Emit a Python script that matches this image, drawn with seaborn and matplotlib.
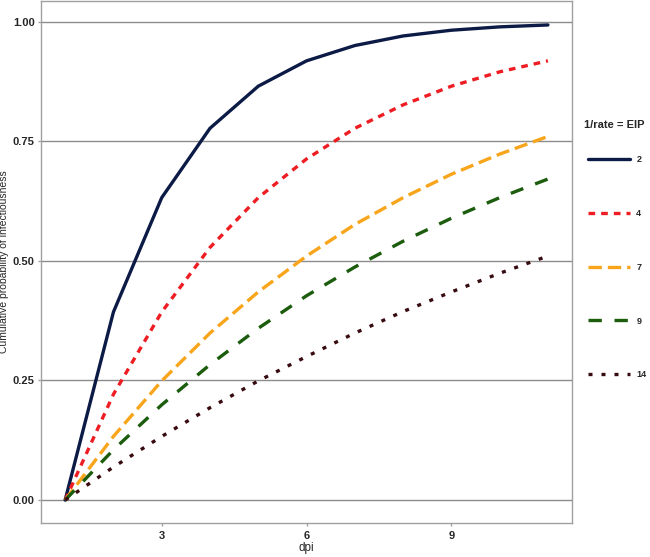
import numpy as np
import pandas as pd
import matplotlib
matplotlib.use("Agg")
import matplotlib.pyplot as plt
import seaborn as sns

# -- Data ----------------------------------------------------------------------
DPI = [1, 2, 3, 4, 5, 6, 7, 8, 9, 10, 11]
EIP_2 = [0.0, 0.393, 0.632, 0.777, 0.865, 0.918, 0.950, 0.970, 0.982, 0.989, 0.993]
EIP_4 = [0.0, 0.221, 0.393, 0.528, 0.632, 0.713, 0.777, 0.826, 0.865, 0.895, 0.918]
EIP_7 = [0.0, 0.133, 0.249, 0.349, 0.435, 0.510, 0.576, 0.632, 0.681, 0.723, 0.760]
EIP_9 = [0.0, 0.105, 0.199, 0.283, 0.359, 0.427, 0.487, 0.541, 0.589, 0.632, 0.671]
EIP_14 = [0.0, 0.069, 0.133, 0.193, 0.249, 0.300, 0.349, 0.394, 0.435, 0.474, 0.510]

EIP_LABELS = ["2", "4", "7", "9", "14"]
EIP_SERIES = [EIP_2, EIP_4, EIP_7, EIP_9, EIP_14]

COLORS = {
    "2": "#0c1a46",
    "4": "#ee1d23",
    "7": "#f8a51b",
    "9": "#1b5c0d",
    "14": "#380b10",
}
DASHES = {
    "2": "",
    "4": (2.0, 1.8),
    "7": (4.0, 1.8),
    "9": (4.0, 3.8),
    "14": (1.2, 2.7),
}
LW = 2.4

frames = []
for lab, vals in zip(EIP_LABELS, EIP_SERIES):
    frames.append(pd.DataFrame({"dpi": DPI, "prob": vals, "EIP": lab}))
df = pd.concat(frames, ignore_index=True)

# -- Plot ----------------------------------------------------------------------
sns.set_style("white")
plt.rcParams["font.family"] = ["Liberation Sans", "DejaVu Sans"]

fig = plt.figure(figsize=(6.5, 5.57), dpi=100)
ax = fig.add_axes([0.0631, 0.061, 0.817, 0.938])

sns.lineplot(data=df, x="dpi", y="prob", hue="EIP", style="EIP",
             hue_order=EIP_LABELS, style_order=EIP_LABELS,
             palette=COLORS, dashes=DASHES, linewidth=LW, ax=ax)
handles, labels = ax.get_legend_handles_labels()
ax.get_legend().remove()

ax.set_xlim(0.5, 11.5)
ax.set_ylim(-0.048, 1.044)
ax.set_xticks([3, 6, 9])
ax.set_yticks([0, 0.25, 0.5, 0.75, 1.0])
ax.set_yticklabels(["0.00", "0.25", "0.50", "0.75", "1.00"])
ax.yaxis.grid(True, color="#8c8c8c", linewidth=1)
ax.xaxis.grid(False)
ax.set_axisbelow(True)
for s in ax.spines.values():
    s.set_color("#a0a0a0")
    s.set_linewidth(1)
ax.tick_params(axis="both", length=2.5, width=1, color="#a0a0a0",
               labelsize=8, pad=2, bottom=True, left=True)
ax.tick_params(axis="x", pad=3)
for t in ax.get_xticklabels() + ax.get_yticklabels():
    t.set_fontweight("bold")

ax.set_xlabel("dpi", fontsize=8.5, labelpad=1)
ax.set_ylabel("Cumulative probability of infectiousness", fontsize=7.5)
ax.yaxis.set_label_coords(-0.060, 0.5)

# legend: title drawn separately, entries placed below it
fig.text(584 / 650, 1 - 125 / 557, "1/rate = EIP", fontsize=8,
         fontweight="bold", ha="left", va="center")
leg = fig.legend(handles, labels, loc="upper left",
                 bbox_to_anchor=(588 / 650, 1 - 155 / 557), frameon=False,
                 handlelength=4.65, labelspacing=4.97, fontsize=6.5,
                 borderaxespad=0, borderpad=0, handletextpad=0.7)
for t in leg.get_texts():
    t.set_fontweight("bold")
for line in leg.get_lines():
    line.set_linewidth(LW)

fig.savefig("out.png", dpi=100)
plt.close(fig)
